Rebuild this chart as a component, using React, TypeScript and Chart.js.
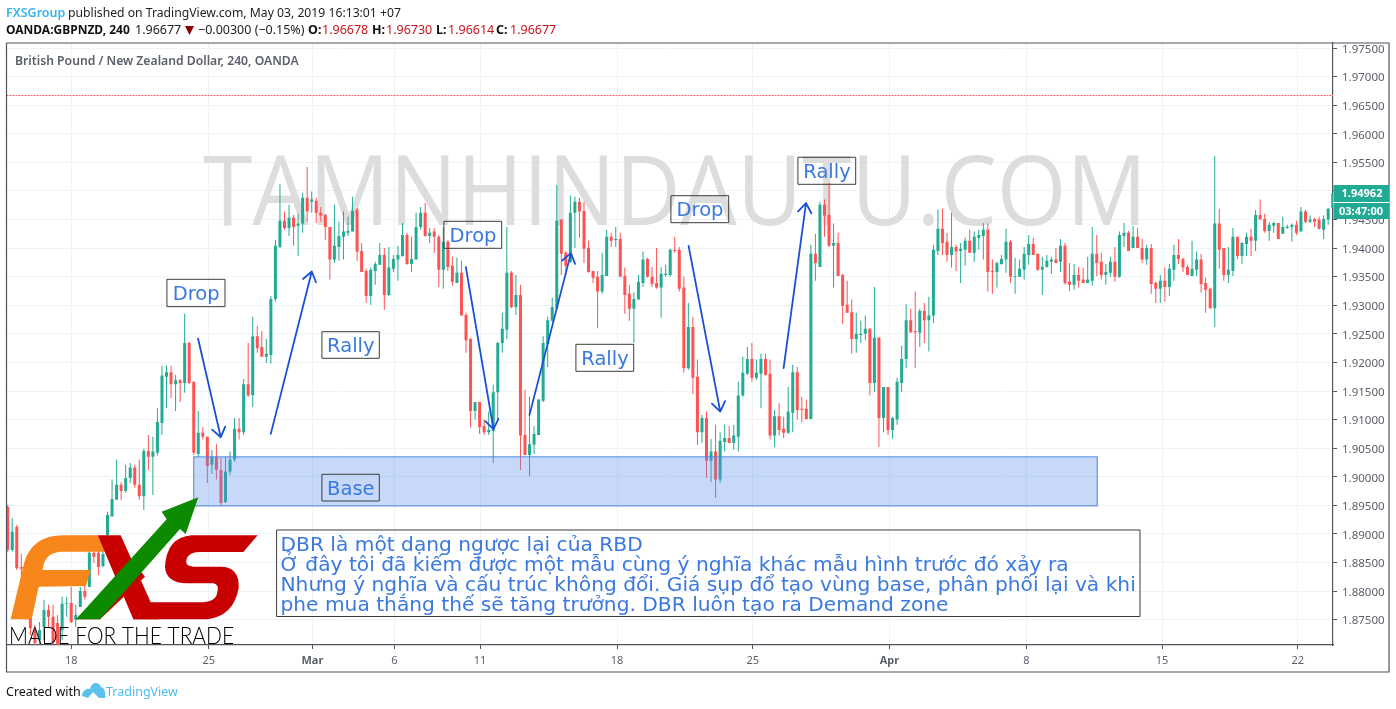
import React, { useEffect, useRef } from "react";
import { Chart, registerables } from "chart.js";

Chart.register(...registerables);

// GBP/NZD 4-hour candles, quoted in ten-thousandths of a unit (19400 = 1.9400)
const opens = [
18947,18872,18912,18842,18837,18755,18732,18714,18737,18767,
18755,18744,18732,18778,18779,18750,18772,18800,18807,18867,
18867,18844,18898,18931,18960,18986,18975,18998,19016,18986,
18966,19045,19035,19042,19094,19175,19183,19162,19169,19164,
19234,19166,19040,19077,19070,19021,19035,19012,18956,19009,
19030,19084,19078,19162,19143,19246,19227,19210,19213,19311,
19402,19448,19435,19453,19439,19443,19488,19481,19483,19462,
19458,19437,19380,19402,19420,19427,19429,19467,19395,19360,
19316,19360,19371,19388,19318,19364,19380,19386,19423,19372,
19380,19437,19462,19421,19429,19420,19362,19411,19369,19339,
19357,19283,19241,19115,19131,19089,19078,19080,19148,19234,
19257,19357,19297,19318,19073,19038,19056,19073,19133,19232,
19273,19295,19450,19392,19376,19462,19481,19465,19400,19360,
19350,19324,19351,19420,19414,19416,19351,19320,19294,19310,
19339,19381,19350,19339,19331,19353,19353,19397,19397,19331,
19190,19262,19175,19078,19103,19028,19044,18995,19061,19068,
19059,19070,19142,19180,19206,19173,19180,19206,19180,19072,
19106,19084,19077,19112,19183,19119,19119,19101,19390,19367,
19476,19458,19404,19409,19353,19301,19288,19241,19248,19250,
19259,19164,19243,19103,19157,19082,19100,19164,19206,19274,
19255,19252,19290,19274,19282,19395,19434,19411,19388,19402,
19395,19397,19413,19392,19418,19421,19432,19360,19358,19372,
19380,19411,19350,19350,19362,19388,19407,19390,19362,19367,
19376,19380,19376,19404,19341,19336,19353,19345,19339,19343,
19390,19376,19353,19357,19376,19350,19421,19427,19400,19420,
19400,19380,19400,19339,19329,19343,19332,19362,19388,19381,
19367,19351,19362,19380,19339,19329,19295,19443,19400,19353,
19360,19420,19386,19407,19420,19413,19458,19451,19430,19439,
19444,19425,19435,19437,19441,19429,19464,19446,19451,19450,
19432,19450,19470];

const highs = [
18951,18928,18916,18865,18846,18771,18741,18746,18785,18776,
18776,18758,18790,18790,18807,18776,18807,18819,18898,18875,
18872,18890,18939,18995,19030,18991,19021,19024,19021,19030,
19049,19073,19070,19120,19194,19194,19194,19178,19171,19285,
19236,19166,19115,19087,19070,19047,19057,19033,19035,19044,
19103,19103,19171,19234,19280,19264,19255,19241,19316,19414,
19512,19464,19476,19458,19460,19497,19542,19499,19488,19472,
19460,19437,19476,19446,19464,19455,19490,19470,19409,19364,
19366,19376,19409,19400,19402,19388,19404,19444,19427,19420,
19462,19472,19479,19435,19435,19423,19437,19414,19385,19383,
19378,19287,19243,19131,19131,19100,19114,19161,19236,19287,
19437,19360,19353,19336,19152,19140,19089,19136,19246,19280,
19313,19511,19450,19394,19492,19490,19488,19481,19413,19360,
19360,19392,19432,19427,19437,19427,19366,19336,19322,19353,
19394,19383,19367,19400,19367,19371,19399,19420,19402,19350,
19304,19280,19205,19108,19114,19066,19091,19078,19091,19089,
19091,19166,19210,19227,19234,19205,19215,19215,19205,19117,
19129,19105,19157,19196,19192,19140,19135,19406,19425,19481,
19485,19514,19443,19427,19355,19343,19310,19287,19273,19282,
19260,19332,19245,19157,19157,19105,19173,19229,19302,19294,
19324,19294,19304,19315,19406,19467,19469,19427,19462,19406,
19409,19418,19432,19429,19432,19444,19443,19380,19376,19388,
19434,19414,19383,19380,19402,19423,19418,19390,19385,19388,
19385,19400,19416,19409,19374,19372,19367,19366,19385,19437,
19423,19392,19372,19385,19402,19429,19444,19430,19439,19435,
19416,19406,19407,19341,19353,19366,19372,19406,19416,19383,
19371,19413,19394,19390,19348,19331,19561,19469,19400,19402,
19435,19420,19411,19427,19434,19467,19485,19460,19446,19446,
19444,19455,19441,19443,19448,19472,19467,19457,19453,19455,
19457,19470,19497];

const lows = [
18869,18869,18837,18825,18750,18723,18706,18706,18714,18737,
18706,18706,18714,18755,18744,18737,18772,18785,18807,18849,
18828,18842,18895,18930,18960,18960,18972,18989,18981,18960,
18942,19012,18968,19037,19073,19120,19138,19115,19131,19147,
19162,19038,19035,19065,18989,19005,18995,18949,18954,19003,
19026,19065,19073,19140,19122,19217,19210,19199,19198,19306,
19400,19432,19421,19404,19386,19427,19446,19462,19444,19446,
19414,19345,19374,19378,19380,19421,19429,19378,19358,19304,
19301,19336,19371,19292,19316,19358,19343,19385,19371,19358,
19380,19432,19420,19409,19392,19332,19329,19360,19334,19339,
19282,19217,19086,19100,19075,19073,19073,19024,19101,19217,
19241,19295,19283,19012,19038,19001,19040,19073,19131,19192,
19271,19292,19353,19353,19374,19400,19418,19374,19357,19339,
19260,19320,19351,19402,19402,19350,19285,19273,19234,19310,
19332,19348,19332,19329,19278,19350,19350,19392,19324,19182,
19187,19145,19056,19059,18998,18991,18963,18989,19044,19059,
19047,19044,19140,19178,19166,19169,19120,19177,19065,19052,
19072,19068,19075,19078,19100,19096,19100,19101,19343,19367,
19420,19402,19331,19351,19267,19287,19215,19217,19234,19239,
19142,19148,19052,19078,19073,19066,19091,19148,19190,19252,
19190,19227,19234,19219,19269,19388,19388,19376,19366,19360,
19339,19369,19392,19376,19397,19380,19324,19320,19331,19371,
19357,19339,19320,19350,19345,19371,19388,19360,19318,19366,
19355,19374,19358,19336,19325,19327,19331,19339,19339,19334,
19351,19345,19336,19350,19341,19348,19402,19395,19400,19400,
19374,19371,19320,19304,19304,19306,19316,19343,19372,19358,
19353,19351,19351,19322,19287,19294,19262,19364,19343,19339,
19351,19381,19372,19386,19386,19395,19450,19427,19413,19427,
19416,19425,19434,19411,19423,19429,19444,19444,19437,19432,
19416,19441,19470];

const closes = [
18872,18904,18840,18839,18755,18735,18709,18732,18767,18755,
18711,18706,18778,18779,18746,18758,18800,18790,18867,18860,
18842,18865,18933,18961,18986,18975,18998,19016,18986,18966,
19045,19035,19044,19096,19177,19183,19162,19169,19164,19234,
19164,19042,19077,19070,19019,19035,19012,18954,19009,19030,
19084,19078,19162,19142,19246,19225,19210,19215,19311,19404,
19448,19435,19453,19437,19443,19488,19464,19485,19462,19457,
19437,19380,19404,19421,19429,19430,19465,19394,19358,19316,
19362,19372,19388,19318,19366,19381,19388,19423,19372,19381,
19437,19462,19421,19427,19420,19362,19411,19367,19341,19357,
19282,19239,19115,19131,19087,19078,19082,19148,19234,19259,
19357,19297,19318,19072,19038,19057,19075,19135,19234,19274,
19297,19448,19390,19369,19462,19481,19464,19399,19358,19348,
19324,19353,19420,19413,19416,19350,19318,19294,19311,19341,
19380,19350,19337,19331,19355,19355,19397,19395,19329,19190,
19262,19173,19078,19103,19028,19044,18995,19063,19068,19059,
19072,19142,19182,19206,19173,19182,19206,19178,19072,19106,
19082,19077,19114,19183,19117,19117,19101,19390,19374,19476,
19457,19404,19409,19351,19299,19287,19241,19250,19250,19259,
19164,19243,19103,19157,19082,19103,19166,19206,19274,19253,
19253,19290,19274,19282,19397,19434,19409,19388,19402,19394,
19399,19413,19392,19420,19423,19432,19358,19358,19374,19381,
19411,19350,19351,19364,19390,19407,19388,19362,19367,19378,
19380,19374,19404,19339,19336,19353,19343,19339,19345,19390,
19374,19353,19358,19376,19350,19423,19427,19395,19420,19400,
19380,19400,19337,19329,19343,19332,19364,19388,19381,19366,
19353,19364,19380,19337,19327,19295,19443,19397,19353,19362,
19420,19386,19409,19420,19413,19458,19450,19430,19441,19444,
19416,19437,19437,19441,19427,19464,19446,19450,19446,19434,
19451,19469,19496];

const xTickIndex = [14, 44.3, 67.15, 85.2, 104.1, 134.3, 164.2, 194.3, 224.5, 254.4, 284.3];
const xTickLabels = ["18", "25", "Mar", "6", "11", "18", "25", "Apr", "8", "15", "22"];

const lastPrice = 1.96677;
const currentPrice = "1.94962";
const countdown = "03:47:00";

// Base zone: candle index range and price range
const baseZone = { fromIndex: 41, toIndex: 240.1, top: 1.90348, bottom: 1.8949 };

// Arrows: [start index, start price, end index, end price]
const arrows = [
  [41.95, 1.92418, 46.96, 1.90692],
  [57.98, 1.9075, 67.02, 1.9359],
  [100.97, 1.93667, 107.05, 1.90832],
  [114.99, 1.91083, 124.12, 1.93912],
  [150.05, 1.9404, 157.03, 1.9114],
  [170.99, 1.919, 175.93, 1.94788],
];

const boxLabels: [string, number, number, number, number][] = [
  ["Drop", 167.3, 279.3, 57.7, 27.4],
  ["Rally", 322.3, 331.7, 57, 26.6],
  ["Base", 322.3, 474.3, 57, 26.7],
  ["Drop", 444.3, 221.3, 57.4, 27],
  ["Rally", 576.3, 344.3, 57.4, 27],
  ["Drop", 671.3, 195.7, 57.4, 27],
  ["Rally", 798.3, 157.3, 57.4, 27],
];

const noteLines = [
  "DBR là một dạng ngược lại của RBD",
  "Ở đây tôi đã kiếm được một mẫu cùng ý nghĩa khác mẫu hình trước đó xảy ra",
  "Nhưng ý nghĩa và cấu trúc không đổi. Giá sụp đổ tạo vùng base, phân phối lại và khi",
  "phe mua thắng thế sẽ tăng trưởng. DBR luôn tạo ra Demand zone",
];

const UP = "#22ab94";
const DOWN = "#ff5252";
const AXIS = "#50535e";
const GRID = "#edf4f8";
const NOTE_BLUE = "#3b78e0";
const SANS = '"Noto Sans"';
const LABEL_FONT = '"DejaVu Sans"';

function poly(ctx: CanvasRenderingContext2D, pts: number[][], fill: string) {
  ctx.fillStyle = fill;
  ctx.beginPath();
  pts.forEach((p, i) => (i ? ctx.lineTo(p[0], p[1]) : ctx.moveTo(p[0], p[1])));
  ctx.closePath();
  ctx.fill();
}

function drawLogo(ctx: CanvasRenderingContext2D) {
  ctx.save();
  ctx.translate(0, 460);
  ctx.scale(1 / 3, 1 / 3);
  // F
  ctx.fillStyle = "#f7861b";
  ctx.beginPath();
  ctx.moveTo(32, 478);
  ctx.lineTo(95, 478);
  ctx.lineTo(116, 380);
  ctx.lineTo(258, 378);
  ctx.lineTo(272, 330);
  ctx.lineTo(128, 330);
  ctx.quadraticCurveTo(132, 280, 180, 275);
  ctx.lineTo(315, 275);
  ctx.lineTo(293, 226);
  ctx.lineTo(190, 226);
  ctx.quadraticCurveTo(95, 226, 72, 310);
  ctx.closePath();
  ctx.fill();
  // X
  poly(ctx, [[293, 226], [362, 226], [475, 478], [400, 478]], "#c80000");
  poly(ctx, [[228, 478], [400, 305], [435, 350], [300, 478]], "#c80000");
  // S
  ctx.fillStyle = "#c80000";
  ctx.beginPath();
  ctx.moveTo(773, 226);
  ctx.lineTo(575, 226);
  ctx.quadraticCurveTo(500, 232, 495, 320);
  ctx.quadraticCurveTo(498, 368, 560, 370);
  ctx.lineTo(640, 370);
  ctx.quadraticCurveTo(660, 372, 650, 405);
  ctx.quadraticCurveTo(642, 425, 610, 427);
  ctx.lineTo(425, 427);
  ctx.lineTo(400, 478);
  ctx.lineTo(620, 478);
  ctx.quadraticCurveTo(700, 470, 716, 385);
  ctx.quadraticCurveTo(720, 320, 660, 320);
  ctx.lineTo(580, 320);
  ctx.quadraticCurveTo(550, 318, 562, 292);
  ctx.quadraticCurveTo(572, 276, 600, 276);
  ctx.lineTo(730, 276);
  ctx.closePath();
  ctx.fill();
  // green arrow
  poly(ctx, [[228, 478], [500, 178], [485, 155], [595, 112], [557, 222], [540, 207], [300, 478]], "#0c8a00");
  ctx.restore();
  ctx.fillStyle = "#000";
  ctx.font = "300 23.5px Lato";
  ctx.textAlign = "left";
  ctx.textBaseline = "alphabetic";
  ctx.fillText("MADE FOR THE TRADE", 9, 644, 225);
}

function drawHeader(ctx: CanvasRenderingContext2D) {
  ctx.textAlign = "left";
  ctx.textBaseline = "alphabetic";
  const item = (t: string, x: number, y: number, color: string, weight = "400", size = 12.5) => {
    ctx.fillStyle = color;
    ctx.font = `${weight} ${size}px ${SANS}`;
    ctx.fillText(t, x, y);
  };
  item("FXSGroup", 6, 17, "#37b3ee", "600");
  item("published on TradingView.com, May 03, 2019 16:13:01 +07", 68, 17, "#222", "400", 12.2);
  item("OANDA:GBPNZD, 240", 6, 34, "#111", "700", 12);
  item("1.96677", 135, 34, "#222");
  poly(ctx, [[185, 26], [194, 26], [189.5, 35]], "#8b0000");
  item("−0.00300 (−0.15%)", 198, 34, "#222");
  item("O:", 308, 34, "#111", "700");
  item("1.96678", 322, 34, "#c4161c");
  item("H:", 372, 34, "#111", "700");
  item("1.96730", 386, 34, "#c4161c");
  item("L:", 436, 34, "#111", "700");
  item("1.96614", 448, 34, "#c4161c");
  item("C:", 496, 34, "#111", "700");
  item("1.96677", 510, 34, "#c4161c");
  item("British Pound / New Zealand Dollar, 240, OANDA", 15, 64.5, "#5b5f6b", "600", 12.2);
  item("Created with", 6, 695.5, "#111");
  item("TradingView", 106, 695.5, "#4cbcee");
  // footer cloud mark
  ctx.fillStyle = "#5cc2ec";
  ctx.beginPath();
  ctx.moveTo(82, 696);
  ctx.bezierCurveTo(82, 690, 88, 688, 90, 689);
  ctx.bezierCurveTo(92, 681, 99, 682, 101, 687);
  ctx.bezierCurveTo(105, 688, 106, 694, 105, 698);
  ctx.lineTo(99, 698);
  ctx.lineTo(93, 692);
  ctx.lineTo(88, 698);
  ctx.closePath();
  ctx.fill();
}

const overlayPlugin = {
  id: "overlay",
  beforeDatasetsDraw(chart: any) {
    const { ctx, chartArea: a, scales } = chart;
    ctx.save();
    ctx.beginPath();
    ctx.rect(a.left, a.top, a.right - a.left, a.bottom - a.top);
    ctx.clip();
    ctx.fillStyle = "#dddddd";
    ctx.font = `400 97px "Open Sans"`;
    ctx.textAlign = "left";
    ctx.textBaseline = "alphabetic";
    ctx.fillText("TAMNHINDAUTU.COM", 203, 225, 944);
    const y = Math.round(scales.y.getPixelForValue(lastPrice)) + 0.5;
    ctx.lineWidth = 1;
    ctx.strokeStyle = "#ffb4b4";
    ctx.beginPath();
    ctx.moveTo(Math.round(a.left), y);
    ctx.lineTo(Math.round(a.right), y);
    ctx.stroke();
    ctx.strokeStyle = "#ff5252";
    ctx.setLineDash([1, 2]);
    ctx.beginPath();
    ctx.moveTo(Math.round(a.left), y);
    ctx.lineTo(Math.round(a.right), y);
    ctx.stroke();
    ctx.restore();
  },
  afterDraw(chart: any) {
    const { ctx, chartArea: a, scales } = chart;
    const xs = scales.x;
    const ys = scales.y;
    ctx.save();
    // base zone
    const zx1 = xs.getPixelForValue(baseZone.fromIndex);
    const zx2 = xs.getPixelForValue(baseZone.toIndex);
    const zy1 = ys.getPixelForValue(baseZone.top);
    const zy2 = ys.getPixelForValue(baseZone.bottom);
    ctx.fillStyle = "rgba(90,140,235,0.34)";
    ctx.fillRect(zx1, zy1, zx2 - zx1, zy2 - zy1);
    ctx.strokeStyle = "#4a84e4";
    ctx.lineWidth = 1;
    ctx.strokeRect(zx1, zy1, zx2 - zx1, zy2 - zy1);

    // arrows
    ctx.strokeStyle = "#1a4fd6";
    ctx.lineWidth = 1.8;
    ctx.lineCap = "round";
    ctx.lineJoin = "round";
    for (const [i1, p1, i2, p2] of arrows) {
      const x1 = xs.getPixelForValue(i1);
      const y1 = ys.getPixelForValue(p1);
      const x2 = xs.getPixelForValue(i2);
      const y2 = ys.getPixelForValue(p2);
      const ang = Math.atan2(y1 - y2, x1 - x2);
      ctx.beginPath();
      ctx.moveTo(x1, y1);
      ctx.lineTo(x2, y2);
      for (const d of [-0.62, 0.62]) {
        ctx.moveTo(x2 + 11.5 * Math.cos(ang + d), y2 + 11.5 * Math.sin(ang + d));
        ctx.lineTo(x2, y2);
      }
      ctx.stroke();
    }

    // labelled boxes
    for (const [t, x, y, w, h] of boxLabels) {
      ctx.strokeStyle = "#3c3c3c";
      ctx.lineWidth = 1;
      ctx.strokeRect(x, y, w, h);
      ctx.fillStyle = NOTE_BLUE;
      ctx.font = `19.5px ${LABEL_FONT}`;
      ctx.textAlign = "center";
      ctx.textBaseline = "alphabetic";
      ctx.fillText(t, x + w / 2, y + 20.5);
    }

    // note box
    ctx.strokeStyle = "#3c3c3c";
    ctx.lineWidth = 1;
    ctx.strokeRect(277, 530, 863, 86.5);
    ctx.fillStyle = NOTE_BLUE;
    ctx.font = `20.2px ${LABEL_FONT}`;
    ctx.textAlign = "left";
    noteLines.forEach((l, i) => ctx.fillText(l, 280.5, 550.7 + 20 * i, 856));

    drawLogo(ctx);

    // frame
    ctx.strokeStyle = AXIS;
    ctx.lineWidth = 1.2;
    ctx.strokeRect(a.left, a.top, 1389 - a.left, 672 - a.top);

    // price tag
    ctx.fillStyle = UP;
    ctx.fillRect(a.right + 0.5, 185, 1389 - a.right - 0.5, 34);
    ctx.strokeStyle = "#fff";
    ctx.beginPath();
    ctx.moveTo(a.right + 0.5, 202.5);
    ctx.lineTo(1389, 202.5);
    ctx.stroke();
    ctx.fillStyle = "#fff";
    ctx.font = `700 11px ${SANS}`;
    ctx.textAlign = "center";
    ctx.textBaseline = "middle";
    ctx.fillText(currentPrice, 1362, 193.5);
    ctx.fillText(countdown, 1361, 211.5);
    ctx.restore();

    ctx.save();
    drawHeader(ctx);
    ctx.restore();
  },
};

export default function App() {
  const ref = useRef<HTMLCanvasElement | null>(null);
  useEffect(() => {
    if (!ref.current) return;
    const n = opens.length;
    const colors = opens.map((o, i) => (closes[i] >= o ? UP : DOWN));
    const chart = new Chart(ref.current, {
      type: "bar",
      data: {
        datasets: [
          {
            label: "Body",
            data: opens.map((o, i) => ({ x: i, y: [o / 1e4, closes[i] / 1e4] })),
            backgroundColor: colors,
            barThickness: 3,
            inflateAmount: 0,
            grouped: false,
            order: 1,
          } as any,
          {
            label: "Wick",
            data: highs.map((h, i) => ({ x: i, y: [lows[i] / 1e4, h / 1e4] })),
            backgroundColor: colors,
            barThickness: 1,
            inflateAmount: 0,
            grouped: false,
            order: 2,
          } as any,
        ],
      },
      plugins: [overlayPlugin as any],
      options: {
        animation: false,
        responsive: false,
        devicePixelRatio: 1,
        parsing: { xAxisKey: "x", yAxisKey: "y" } as any,
        layout: { padding: { left: 6.5, top: 43, right: 7, bottom: 37 } },
        plugins: { legend: { display: false }, tooltip: { enabled: false } },
        scales: {
          x: {
            type: "linear",
            offset: false,
            min: -0.26,
            max: n - 1 + 0.06,
            afterBuildTicks(scale: any) {
              scale.ticks = xTickIndex.map((v) => ({ value: v }));
            },
            afterFit(scale: any) {
              scale.height = 27;
            },
            grid: { offset: false, color: GRID, tickColor: AXIS, tickLength: 4 },
            border: { color: AXIS, width: 1.2 },
            ticks: {
              autoSkip: false,
              maxRotation: 0,
              padding: 5,
              color: "#5b5f6b",
              font: (c: any) => ({
                family: "Noto Sans",
                size: 11,
                weight: /[A-Z]/.test(xTickLabels[c.index] || "") ? "700" : "400",
              }),
              callback: (_v: any, i: number) => xTickLabels[i],
            },
          },
          y: {
            type: "linear",
            position: "right",
            min: 1.87057,
            max: 1.97588,
            afterFit(scale: any) {
              scale.width = 56;
            },
            grid: { color: GRID, tickColor: AXIS, tickLength: 4 },
            border: { color: AXIS, width: 1.2 },
            ticks: {
              stepSize: 0.005,
              includeBounds: false,
              padding: 5,
              labelOffset: 1.5,
              color: "#5b5f6b",
              font: { family: "Noto Sans", size: 11.5 },
              callback: (v: any) => Number(v).toFixed(5),
            },
          },
        },
      },
    } as any);
    return () => chart.destroy();
  }, []);
  return (
    <div style={{ position: "absolute", left: 0, top: 0, width: 1396, height: 709, background: "#fff" }}>
      <canvas ref={ref} width={1396} height={709} style={{ display: "block" }} />
    </div>
  );
}
